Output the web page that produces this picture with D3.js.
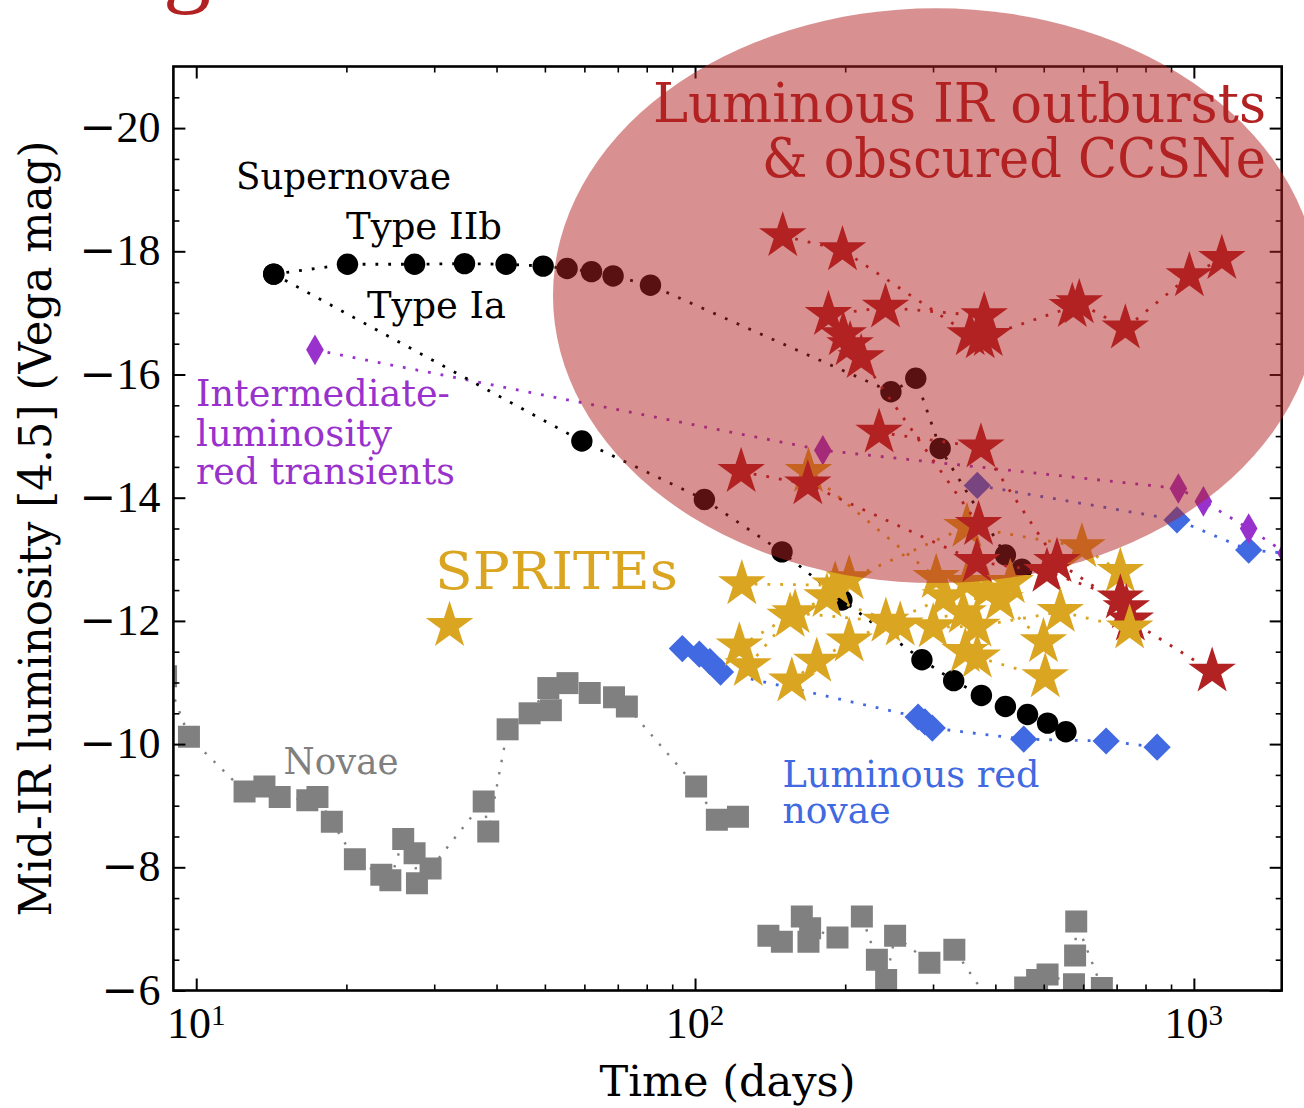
<!DOCTYPE html>
<html>
<head>
<meta charset="utf-8">
<script src="https://cdn.jsdelivr.net/npm/d3@7"></script>
<style>
  body { margin: 0; background: #fff; }
  svg { display: block; }
  text { font-family: "DejaVu Serif", serif; }
</style>
</head>
<body>
<svg id="chart"></svg>
<script>
// ---- data: [time (days), mag] ----
var snIIb = [[14.3,-17.63],[20.1,-17.79],[27.4,-17.79],[34.5,-17.80],[41.8,-17.79],[49.6,-17.76],[55.4,-17.72],[62.0,-17.67],[68.5,-17.60],[81.4,-17.45],[247,-15.72],[277,-15.94],[310,-14.80],[419,-13.07],[452,-12.84]];
var snIa = [[14.3,-17.63],[59.3,-14.92],[104.4,-13.97],[149.4,-13.12],[197,-12.34],[285,-11.37],[330,-11.03],[375,-10.79],[419,-10.61],[464,-10.48],[509,-10.34],[554,-10.20]];

var ilrt = [[17.3,-16.40],[180.4,-14.77],[931,-14.15],[1045,-13.94],[1288,-13.50],[1530,-13.10]];

var lrnA = [[368,-14.20],[925,-13.64],[1288,-13.15],[1880,-13.04]];
var lrnB = [[94.3,-11.55],[102.0,-11.46],[107.1,-11.34],[112.5,-11.17],[280,-10.44],[289,-10.36],[299,-10.26],[456,-10.08],[667,-10.05],[844,-9.95]];

var novaA = [[8.7,-11.10],[9.67,-10.12],[12.5,-9.23],[13.7,-9.31],[14.7,-9.14],[16.7,-9.09],[17.5,-9.14],[18.7,-8.74],[20.8,-8.13],[23.5,-7.88],[24.5,-7.79],[26.0,-8.46],[27.4,-8.23],[27.7,-7.74],[29.5,-7.98],[37.7,-9.07],[38.5,-8.58],[42.1,-10.24],[46.6,-10.50],[50.8,-10.91],[51.4,-10.55],[55.5,-10.99],[61.5,-10.83],[68.8,-10.76],[73.0,-10.61],[100.5,-9.31],[110.6,-8.77],[121.9,-8.82]];
var novaB = [[140.3,-6.89],[149.3,-6.79],[163.7,-7.20],[168.8,-6.79],[170.1,-7.01],[193,-6.86],[216,-7.20],[231.5,-6.50],[241.6,-6.17],[251.8,-6.89],[295,-6.45],[331,-6.66],[391,-5.80],[459,-6.05],[485,-6.17],[509,-6.26],[575,-6.10],[578,-6.57],[581,-7.12],[654,-6.04]];

var spriteA = [[32.2,-11.92]];
var spriteB = [[124.1,-12.60],[190.9,-12.58],[203.7,-12.68],[350.8,-13.53],[596.6,-13.20],[712.2,-12.80]];
var spriteC = [[127.8,-11.27],[155.1,-12.07],[183.8,-12.39],[257.8,-11.93],[344.9,-12.13],[428.5,-12.62]];
var spriteD = [[122.7,-11.59],[158.7,-12.13],[241.3,-11.99],[300.2,-11.90],[367.4,-11.91],[539.8,-12.15],[743.4,-11.88]];
var spriteE = [[156.3,-11.02],[175.4,-11.34],[203.7,-11.67],[317.3,-12.39],[409.1,-12.34],[499.5,-11.66]];
var spriteF = [[168.8,-14.42],[304.4,-12.70],[350.8,-12.62],[384.7,-12.50]];
var spriteG = [[348.1,-11.50],[367.9,-11.41],[503.5,-11.09]];

var burstA = [[149.9,-18.25],[197.5,-18.02],[356.2,-16.64],[373,-16.59],[570.5,-17.10],[589.2,-17.16],[728.8,-16.75],[979.5,-17.60],[1138,-17.88]];
var burstB = [[198.2,-16.64],[204.6,-16.48],[215.3,-16.27],[370.1,-13.56]];
var burstC = [[123.7,-14.42],[168.3,-14.22],[367.4,-12.96],[507.6,-12.80],[712.2,-12.37],[745.8,-12.01],[1088,-11.18]];
var burstD = [[233.9,-15.06],[374.2,-14.82],[531.6,-12.96],[732.2,-12.21]];
var burstE = [[185.1,-16.97],[240.9,-17.09],[379.9,-16.95],[387,-16.63]];

var xMajor = [10, 100, 1000];
var xMinor = [20,30,40,50,60,70,80,90,200,300,400,500,600,700,800,900];
var yMajor = [-20,-18,-16,-14,-12,-10,-8,-6];
var yMinor = d3.range(-20.5, -6, 0.5).filter(function (v) { return v % 2 !== 0; });

// ---- layout ----
var W = 1304, H = 1108;
var pL = 173.4, pR = 1281.7, pT = 66.5, pB = 990.5;

var svg = d3.select("#chart").attr("width", W).attr("height", H);
svg.append("rect").attr("width", W).attr("height", H).attr("fill", "#fff");

var x = d3.scaleLog().domain([9, 1500]).range([pL, pR]);
var y = d3.scaleLinear().domain([-21, -6]).range([pT, pB]);

svg.append("clipPath").attr("id", "plotclip")
    .append("rect")
    .attr("x", pL).attr("y", pT)
    .attr("width", pR - pL).attr("height", pB - pT);

var dataLayer = svg.append("g").attr("clip-path", "url(#plotclip)");

var line = d3.line()
    .x(function (d) { return x(d[0]); })
    .y(function (d) { return y(d[1]); });

function drawSeries(data, color, type, size, rotate, dotW)
{
    var g = dataLayer.append("g");
    var lw = dotW || 2.8;
    if (data.length > 1)
    {
        g.append("path")
            .attr("d", line(data))
            .attr("fill", "none")
            .attr("stroke", color)
            .attr("stroke-width", lw)
            .attr("stroke-dasharray", lw + " 10");
    }
    g.selectAll(null)
        .data(data)
        .enter().append("path")
        .attr("d", d3.symbol().type(type).size(size))
        .attr("transform", function (d)
        {
            return "translate(" + x(d[0]) + "," + y(d[1]) + ")" + (rotate ? " rotate(45)" : "");
        })
        .attr("fill", color);
}

var starSize = 700, sqSize = 484, circSize = 360, thinDiaSize = 270, diaSize = 370;

drawSeries(novaA, "gray", d3.symbolSquare, sqSize, false, 2.4);
drawSeries(novaB, "gray", d3.symbolSquare, sqSize, false, 2.4);
drawSeries(lrnB, "royalblue", d3.symbolSquare, diaSize, true);
drawSeries(lrnA, "royalblue", d3.symbolSquare, diaSize, true);
drawSeries(ilrt, "darkorchid", d3.symbolDiamond, thinDiaSize, false);
drawSeries(snIa, "black", d3.symbolCircle, circSize, false);
drawSeries(snIIb, "black", d3.symbolCircle, circSize, false);
drawSeries(spriteF, "goldenrod", d3.symbolStar, starSize, false);
drawSeries(spriteB, "goldenrod", d3.symbolStar, starSize, false);
drawSeries(burstA, "firebrick", d3.symbolStar, starSize, false);
drawSeries(burstB, "firebrick", d3.symbolStar, starSize, false);
drawSeries(burstC, "firebrick", d3.symbolStar, starSize, false);
drawSeries(burstD, "firebrick", d3.symbolStar, starSize, false);
drawSeries(burstE, "firebrick", d3.symbolStar, starSize, false);
drawSeries(spriteA, "goldenrod", d3.symbolStar, starSize, false);
drawSeries(spriteC, "goldenrod", d3.symbolStar, starSize, false);
drawSeries(spriteD, "goldenrod", d3.symbolStar, starSize, false);
drawSeries(spriteE, "goldenrod", d3.symbolStar, starSize, false);
drawSeries(spriteG, "goldenrod", d3.symbolStar, starSize, false);

// ---- axes: inward ticks on all four sides ----
function styleTicks(g, w)
{
    g.select(".domain").remove();
    g.selectAll(".tick line").attr("stroke", "#000").attr("stroke-width", w);
}

svg.append("g").attr("transform", "translate(" + pL + ",0)")
    .call(d3.axisLeft(y).tickValues(yMajor).tickSize(-12).tickFormat(""))
    .call(styleTicks, 2);
svg.append("g").attr("transform", "translate(" + pL + ",0)")
    .call(d3.axisLeft(y).tickValues(yMinor).tickSize(-6).tickFormat(""))
    .call(styleTicks, 1.6);
svg.append("g").attr("transform", "translate(" + pR + ",0)")
    .call(d3.axisRight(y).tickValues(yMajor).tickSize(-12).tickFormat(""))
    .call(styleTicks, 2);
svg.append("g").attr("transform", "translate(" + pR + ",0)")
    .call(d3.axisRight(y).tickValues(yMinor).tickSize(-6).tickFormat(""))
    .call(styleTicks, 1.6);
svg.append("g").attr("transform", "translate(0," + pB + ")")
    .call(d3.axisBottom(x).tickValues(xMajor).tickSize(-12).tickFormat(""))
    .call(styleTicks, 2);
svg.append("g").attr("transform", "translate(0," + pB + ")")
    .call(d3.axisBottom(x).tickValues(xMinor).tickSize(-6).tickFormat(""))
    .call(styleTicks, 1.6);
svg.append("g").attr("transform", "translate(0," + pT + ")")
    .call(d3.axisTop(x).tickValues(xMajor).tickSize(-12).tickFormat(""))
    .call(styleTicks, 2);
svg.append("g").attr("transform", "translate(0," + pT + ")")
    .call(d3.axisTop(x).tickValues(xMinor).tickSize(-6).tickFormat(""))
    .call(styleTicks, 1.6);

svg.append("rect")
    .attr("x", pL).attr("y", pT)
    .attr("width", pR - pL).attr("height", pB - pT)
    .attr("fill", "none").attr("stroke", "#000").attr("stroke-width", 2.6);

// y tick labels
var yLab = svg.append("g").selectAll("text")
    .data(yMajor)
    .enter().append("text")
    .attr("x", pL - 13)
    .attr("y", function (d) { return y(d) + 14; })
    .attr("text-anchor", "end")
    .style("font-family", "'Liberation Serif', serif")
    .attr("font-size", 44);
yLab.append("tspan").style("font-family", "'DejaVu Serif', serif").text("\u2212");
yLab.append("tspan").text(function (d) { return Math.abs(d); });

// x tick labels 10^n
var xLab = svg.append("g").selectAll("text")
    .data(xMajor)
    .enter().append("text")
    .attr("x", function (d) { return x(d); })
    .attr("y", 1038)
    .attr("text-anchor", "middle")
    .style("font-family", "'Liberation Serif', serif")
    .attr("font-size", 44);
xLab.append("tspan").text("10");
xLab.append("tspan").attr("font-size", 29).attr("dy", -13)
    .text(function (d) { return Math.round(Math.log10(d)); });

// axis titles
svg.append("text")
    .attr("transform", "translate(51," + ((pT + pB) / 2) + ") rotate(-90)")
    .attr("text-anchor", "middle")
    .attr("font-size", 45)
    .attr("textLength", 776).attr("lengthAdjust", "spacingAndGlyphs")
    .text("Mid-IR luminosity [4.5] (Vega mag)");
svg.append("text")
    .attr("x", (pL + pR) / 2).attr("y", 1096)
    .attr("text-anchor", "middle")
    .attr("font-size", 43)
    .attr("textLength", 256).attr("lengthAdjust", "spacingAndGlyphs")
    .text("Time (days)");

// ---- shaded region (axes fraction), drawn over the frame ----
var region = { cx: 0.688, cy: 0.752, w: 0.691, h: 0.622 };
svg.append("ellipse")
    .attr("cx", pL + region.cx * (pR - pL))
    .attr("cy", pB - region.cy * (pB - pT))
    .attr("rx", region.w / 2 * (pR - pL))
    .attr("ry", region.h / 2 * (pB - pT))
    .attr("fill", "firebrick")
    .attr("fill-opacity", 0.5);

// cut-off title glyph at the top edge
svg.append("text")
    .attr("x", 163).attr("y", -5)
    .style("font-family", "'Liberation Serif', serif")
    .attr("font-size", 96)
    .attr("fill", "firebrick")
    .text("g");

// ---- annotations ----
var notes = [
    { t: "Supernovae", x: 236, y: 189, s: 37, w: 215, c: "#000" },
    { t: "Type IIb", x: 346, y: 238.5, s: 37, w: 156, c: "#000" },
    { t: "Type Ia", x: 367, y: 318, s: 37, w: 139, c: "#000" },
    { t: "Intermediate-", x: 196, y: 405.5, s: 37, w: 254, c: "darkorchid" },
    { t: "luminosity", x: 196, y: 446, s: 37, w: 196, c: "darkorchid" },
    { t: "red transients", x: 196, y: 484, s: 37, w: 259, c: "darkorchid" },
    { t: "SPRITEs", x: 435, y: 589, s: 52, w: 243, c: "goldenrod" },
    { t: "Luminous IR outbursts", x: 653, y: 121.5, s: 54, w: 613, c: "firebrick" },
    { t: "& obscured CCSNe", x: 762, y: 177, s: 54, w: 504, c: "firebrick" },
    { t: "Novae", x: 283.5, y: 773.5, s: 37, w: 115, c: "gray" },
    { t: "Luminous red", x: 782.5, y: 786.5, s: 37, w: 257, c: "royalblue" },
    { t: "novae", x: 782.5, y: 822.5, s: 37, w: 108, c: "royalblue" }
];

svg.append("g").selectAll("text")
    .data(notes)
    .enter().append("text")
    .attr("x", function (d) { return d.x; })
    .attr("y", function (d) { return d.y; })
    .attr("font-size", function (d) { return d.s; })
    .attr("fill", function (d) { return d.c; })
    .attr("textLength", function (d) { return d.w; })
    .attr("lengthAdjust", "spacingAndGlyphs")
    .text(function (d) { return d.t; });
</script>
</body>
</html>
